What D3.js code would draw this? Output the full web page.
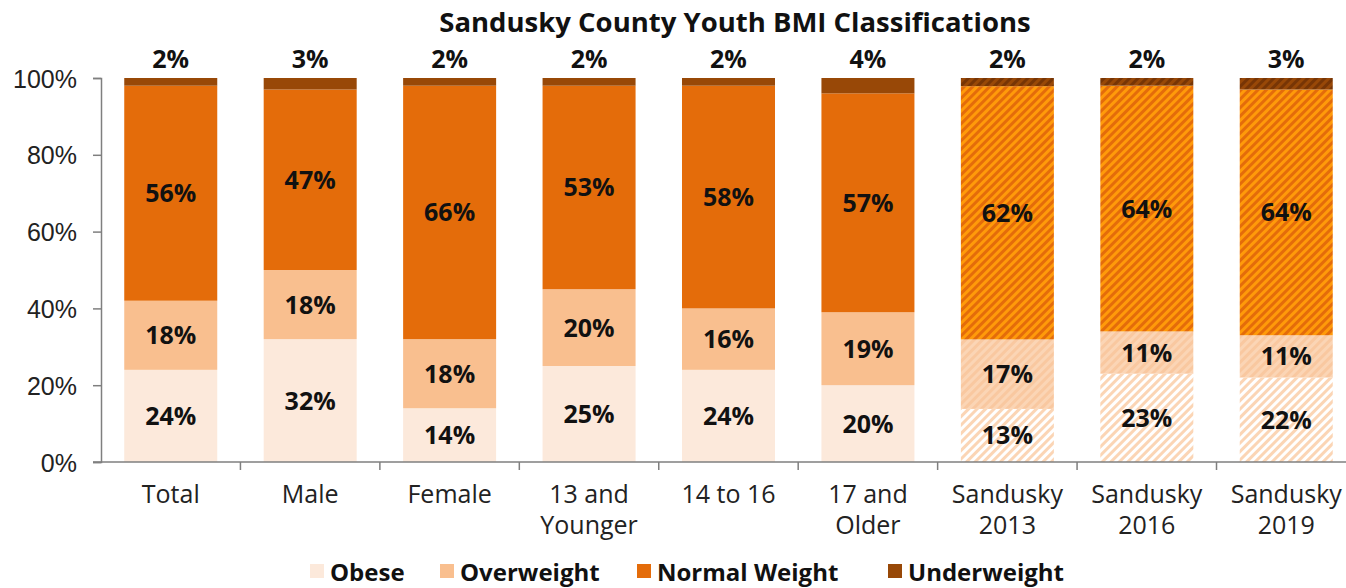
<!DOCTYPE html>
<html>
<head>
<meta charset="utf-8">
<script src="https://cdn.jsdelivr.net/npm/d3@7"></script>
<style>
  body { margin: 0; background: #fff; }
  svg { display: block; font-family: "Open Sans", "Noto Sans", sans-serif; }
</style>
</head>
<body>
<svg id="chart" width="1346" height="588"></svg>
<script>
var categories = [['Total'], ['Male'], ['Female'], ['13 and', 'Younger'], ['14 to 16'], ['17 and', 'Older'], ['Sandusky', '2013'], ['Sandusky', '2016'], ['Sandusky', '2019']];
var seriesNames = ['Obese', 'Overweight', 'Normal Weight', 'Underweight'];
var obese = [24, 32, 14, 25, 24, 20, 13, 23, 22];
var overweight = [18, 18, 18, 20, 16, 19, 17, 11, 11];
var normalWeight = [56, 47, 66, 53, 58, 57, 62, 64, 64];
var underweight = [2, 3, 2, 2, 2, 4, 2, 2, 3];
var yTicks = [0, 0.2, 0.4, 0.6, 0.8, 1];
var hatched = [false, false, false, false, false, false, true, true, true];

var COLORS = ['#fce9db', '#f9bf8f', '#e46c0a', '#984807'];
var STRIPES = [['#ffffff', '#fbd5b5'], ['#f9c8a0', '#fbd5b5'], ['#e46c0a', '#ff9a0a'], ['#984807', '#773505']];

var MARGIN = { LEFT: 101, RIGHT: -10, TOP: 78, BOTTOM: 126 };
var width = 1346 - MARGIN.LEFT - MARGIN.RIGHT,
    height = 588 - MARGIN.TOP - MARGIN.BOTTOM;

var rows = categories.map(function (c, i) {
    return { key: i, Obese: obese[i], Overweight: overweight[i], 'Normal Weight': normalWeight[i], Underweight: underweight[i] };
});
var stack = d3.stack().keys(seriesNames).offset(d3.stackOffsetExpand);
var layers = stack(rows);

var xScale = d3.scaleBand()
    .domain(d3.range(categories.length))
    .range([0, width])
    .paddingInner(0.333)
    .paddingOuter(0.1667);
var yScale = d3.scaleLinear().domain([0, 1]).range([height, 0]);

var svg = d3.select('#chart');
var defs = svg.append('defs');
STRIPES.forEach(function (s, i) {
    var p = defs.append('pattern')
        .attr('id', 'hatch' + i)
        .attr('patternUnits', 'userSpaceOnUse')
        .attr('width', 6)
        .attr('height', 6)
        .attr('patternTransform', 'rotate(45)');
    p.append('rect').attr('width', 6).attr('height', 6).attr('fill', s[0]);
    p.append('rect').attr('width', 3).attr('height', 6).attr('fill', s[1]);
});

svg.append('text')
    .attr('x', 735)
    .attr('y', 32)
    .attr('text-anchor', 'middle')
    .style('font-size', '27.5px')
    .style('font-weight', 'bold')
    .attr('fill', '#111')
    .text('Sandusky County Youth BMI Classifications');

var g = svg.append('g').attr('transform', 'translate(' + MARGIN.LEFT + ',' + MARGIN.TOP + ')');

// bars
layers.forEach(function (layer, si) {
    g.append('g').selectAll('rect')
        .data(layer)
        .join('rect')
        .attr('x', function (d, i) { return xScale(i); })
        .attr('width', xScale.bandwidth())
        .attr('y', function (d) { return yScale(d[1]); })
        .attr('height', function (d) { return yScale(d[0]) - yScale(d[1]); })
        .attr('fill', function (d, i) { return hatched[i] ? 'url(#hatch' + si + ')' : COLORS[si]; });
});

// labels
var rawVals = [obese, overweight, normalWeight, underweight];
layers.forEach(function (layer, si) {
    g.append('g').selectAll('text')
        .data(layer)
        .join('text')
        .attr('x', function (d, i) { return xScale(i) + xScale.bandwidth() / 2; })
        .attr('y', function (d) {
            if (si === 3) return yScale(d[1]) - 10;
            return (yScale(d[0]) + yScale(d[1])) / 2 + 9;
        })
        .attr('text-anchor', 'middle')
        .style('font-size', '25px')
        .style('font-weight', 'bold')
        .attr('fill', '#111')
        .text(function (d, i) { return rawVals[si][i] + '%'; });
});

// y axis
var yAxis = d3.axisLeft(yScale).tickValues(yTicks).tickFormat(d3.format('.0%')).tickSize(8).tickPadding(16);
var yG = g.append('g').call(yAxis);
yG.selectAll('path, line').attr('stroke', '#7f7f7f').attr('stroke-width', 1.5);
yG.selectAll('text').style('font-size', '25px').attr('fill', '#222').attr('font-family', 'inherit').attr('dy', '0.36em');

// x axis
var xG = g.append('g').attr('transform', 'translate(0,' + height + ')');
xG.append('line').attr('x1', -8).attr('x2', width).attr('stroke', '#7f7f7f').attr('stroke-width', 1.5);
xG.selectAll('line.sep')
    .data(d3.range(1, categories.length + 1))
    .join('line')
    .attr('class', 'sep')
    .attr('x1', function (i) { return i * xScale.step(); })
    .attr('x2', function (i) { return i * xScale.step(); })
    .attr('y1', 0).attr('y2', 8)
    .attr('stroke', '#7f7f7f').attr('stroke-width', 1.5);
xG.selectAll('text.cat')
    .data(categories)
    .join('text')
    .attr('class', 'cat')
    .attr('text-anchor', 'middle')
    .attr('x', function (d, i) { return xScale(i) + xScale.bandwidth() / 2; })
    .attr('y', 41)
    .style('font-size', '25px')
    .attr('fill', '#222')
    .each(function (d) {
        var t = d3.select(this);
        d.forEach(function (line, j) {
            t.append('tspan').attr('x', t.attr('x')).attr('dy', j === 0 ? 0 : 31).text(line);
        });
    });

// legend
var legendX = [310, 440, 637, 888];
var legend = svg.append('g');
seriesNames.forEach(function (n, i) {
    legend.append('rect').attr('x', legendX[i]).attr('y', 564).attr('width', 14).attr('height', 14).attr('fill', COLORS[i]);
    legend.append('text').attr('x', legendX[i] + 20).attr('y', 581)
        .style('font-size', '24px').style('font-weight', 'bold').attr('fill', '#111').text(n);
});
</script>
</body>
</html>
